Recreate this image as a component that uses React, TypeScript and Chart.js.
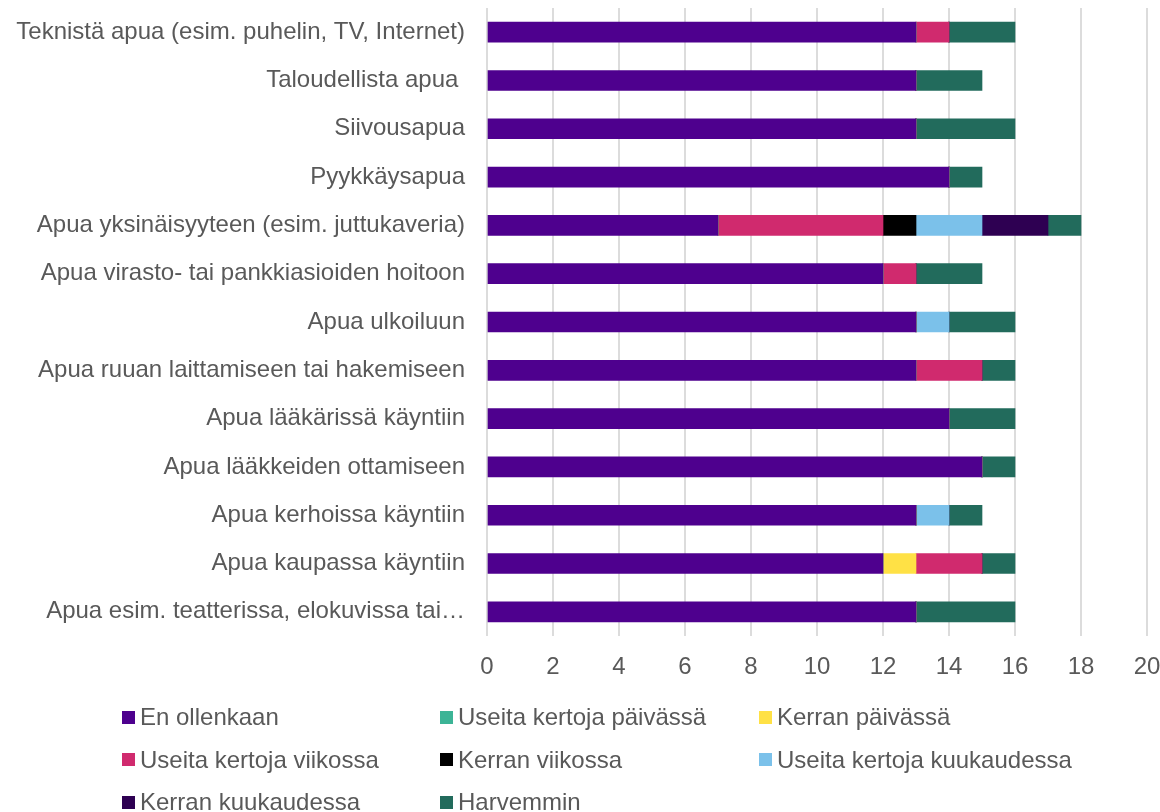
import React, { useEffect, useRef } from "react";
import { Chart, registerables } from "chart.js";

Chart.register(...registerables);

const categories = [
  "Teknistä apua (esim. puhelin, TV, Internet)",
  "Taloudellista apua ",
  "Siivousapua",
  "Pyykkäysapua",
  "Apua yksinäisyyteen (esim. juttukaveria)",
  "Apua virasto- tai pankkiasioiden hoitoon",
  "Apua ulkoiluun",
  "Apua ruuan laittamiseen tai hakemiseen",
  "Apua lääkärissä käyntiin",
  "Apua lääkkeiden ottamiseen",
  "Apua kerhoissa käyntiin",
  "Apua kaupassa käyntiin",
  "Apua esim. teatterissa, elokuvissa tai…",
];

const enOllenkaan = [13, 13, 13, 14, 7, 12, 13, 13, 14, 15, 13, 12, 13];
const useitaPaivassa = [0, 0, 0, 0, 0, 0, 0, 0, 0, 0, 0, 0, 0];
const kerranPaivassa = [0, 0, 0, 0, 0, 0, 0, 0, 0, 0, 0, 1, 0];
const useitaViikossa = [1, 0, 0, 0, 5, 1, 0, 2, 0, 0, 0, 2, 0];
const kerranViikossa = [0, 0, 0, 0, 1, 0, 0, 0, 0, 0, 0, 0, 0];
const useitaKuukaudessa = [0, 0, 0, 0, 2, 0, 1, 0, 0, 0, 1, 0, 0];
const kerranKuukaudessa = [0, 0, 0, 0, 2, 0, 0, 0, 0, 0, 0, 0, 0];
const harvemmin = [2, 2, 3, 1, 1, 2, 2, 1, 2, 1, 1, 1, 3];

const seriesNames = [
  "En ollenkaan",
  "Useita kertoja päivässä",
  "Kerran päivässä",
  "Useita kertoja viikossa",
  "Kerran viikossa",
  "Useita kertoja kuukaudessa",
  "Kerran kuukaudessa",
  "Harvemmin",
];
const seriesData = [
  enOllenkaan,
  useitaPaivassa,
  kerranPaivassa,
  useitaViikossa,
  kerranViikossa,
  useitaKuukaudessa,
  kerranKuukaudessa,
  harvemmin,
];
const seriesColors = [
  "#4E008E",
  "#3CB496",
  "#FFE145",
  "#D02A6E",
  "#000000",
  "#7BC1EA",
  "#2E0052",
  "#226B5C",
];

const xMin = 0;
const xMax = 20;
const xStep = 2;

const FONT = '"Liberation Sans", Arial, sans-serif';
const TEXT = "#595959";

// legend layout: [left of square, vertical center]
const legendPos = [
  [122, 717],
  [440, 717],
  [759, 717],
  [122, 759.5],
  [440, 759.5],
  [759, 759.5],
  [122, 802],
  [440, 802],
];

export default function App() {
  const ref = useRef<HTMLCanvasElement | null>(null);

  useEffect(() => {
    if (!ref.current) return;
    const chart = new Chart(ref.current, {
      type: "bar",
      data: {
        labels: categories,
        datasets: seriesNames.map((name, i) => ({
          label: name,
          data: seriesData[i],
          backgroundColor: seriesColors[i],
          borderWidth: 0,
          barThickness: 20,
        })),
      },
      options: {
        indexAxis: "y",
        animation: false,
        responsive: true,
        maintainAspectRatio: false,
        layout: { padding: { top: 8, left: 0, right: 13, bottom: 126 } },
        plugins: {
          legend: { display: false },
          tooltip: { enabled: false },
        },
        scales: {
          x: {
            stacked: true,
            min: xMin,
            max: xMax,
            ticks: {
              stepSize: xStep,
              padding: 17,
              color: TEXT,
              font: { family: FONT, size: 24 },
            },
            grid: { color: "#dcdcdc", lineWidth: 2, drawTicks: false },
            border: { display: false },
            afterFit: (s: any) => {
              s.height = 50;
              s.paddingLeft = 0;
              s.paddingRight = 0;
              s.paddingTop = 0;
              s.paddingBottom = 0;
            },
          },
          y: {
            stacked: true,
            ticks: {
              padding: 22,
              color: TEXT,
              font: { family: FONT, size: 24 },
              autoSkip: false,
            },
            grid: { display: false, drawTicks: false },
            border: { display: false },
            afterFit: (s: any) => {
              s.width = 487;
              s.paddingLeft = 0;
              s.paddingRight = 0;
              s.paddingTop = 0;
              s.paddingBottom = 0;
            },
          },
        },
      },
    });
    return () => chart.destroy();
  }, []);

  return (
    <div
      style={{
        position: "fixed",
        left: 0,
        top: 0,
        width: 1160,
        height: 812,
        background: "#ffffff",
      }}
    >
      <canvas ref={ref} />
      {seriesNames.map((name, i) => (
        <div
          key={name}
          style={{
            position: "absolute",
            left: legendPos[i][0],
            top: legendPos[i][1] - 15,
            height: 30,
            display: "flex",
            alignItems: "center",
            whiteSpace: "nowrap",
            fontFamily: FONT,
            fontSize: 24,
            color: TEXT,
          }}
        >
          <span
            style={{
              display: "inline-block",
              width: 13,
              height: 13,
              background: seriesColors[i],
              marginRight: 5,
            }}
          />
          <span>{name}</span>
        </div>
      ))}
    </div>
  );
}
